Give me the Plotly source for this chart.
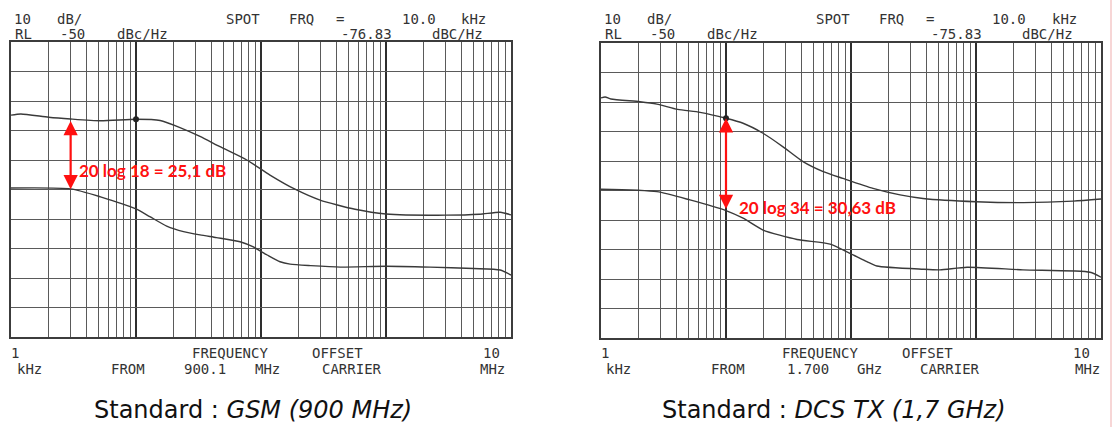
import plotly.graph_objects as go
import numpy as np

W, H = 1115, 427

# ---------------- DATA ----------------
# frequency offset in kHz, phase noise in dBc/Hz
gsm_upper_f = [1, 1.2, 2, 3, 5.2, 10, 15.6, 22.5, 32.5, 47, 77, 118, 187, 297, 565, 1000, 3000, 5600, 8200, 10000]
gsm_upper_db = [-74.8, -74.4, -75.5, -76.1, -76.7, -76.2, -76.6, -79.0, -82.0, -85.5, -90.0, -95.1, -99.9, -103.6, -106.7, -108.3, -108.7, -108.4, -107.7, -108.6]

gsm_lower_f = [1, 3, 5.2, 10, 12.9, 17.6, 24, 32.5, 44, 68, 86, 112, 142, 171, 250, 430, 1000, 2250, 5000, 8200, 10000]
gsm_lower_db = [-99.5, -99.8, -102.5, -106.6, -109.2, -112.4, -114.3, -115.4, -116.3, -117.7, -119.4, -122.2, -124.5, -125.3, -125.8, -126.3, -126.0, -126.3, -126.8, -127.3, -129.0]

dcs_upper_f = [1, 1.08, 1.2, 2.05, 2.8, 4.1, 6.2, 10, 13.7, 19.8, 28.6, 41.3, 60, 86, 150, 247, 377, 1000, 2400, 6000, 10000]
dcs_upper_db = [-68.6, -68.3, -69.0, -69.9, -70.7, -72.5, -73.5, -75.5, -77.2, -80.6, -85.2, -90.2, -93.6, -95.9, -99.3, -101.5, -102.7, -103.8, -104.1, -103.6, -102.9]

dcs_lower_f = [1, 2.8, 5.15, 10, 13.7, 19.8, 37, 68, 98, 134, 161, 377, 515, 847, 2377, 8170, 10000]
dcs_lower_db = [-99.6, -100.4, -103.2, -106.8, -109.4, -113.4, -116.6, -118.2, -121.3, -124.1, -125.6, -126.7, -126.9, -126.0, -126.9, -127.7, -129.4]

spot_freq_khz = 10
gsm_spot_db = -76.2
dcs_spot_db = -75.5

gsm_arrow_f = 3
gsm_arrow_db = [-76.8, -100.4]
dcs_arrow_db = [-75.5, -106.8]

gsm_ratio_label = "20 log 18 = 25,1 dB"
dcs_ratio_label = "20 log 34 = 30,63 dB"

header1 = ["10", "dB/", "SPOT", "FRQ", "=", "10.0", "kHz"]
gsm_header2 = ["RL", "-50", "dBc/Hz", "-76.83", "dBC/Hz"]
dcs_header2 = ["RL", "-50", "dBc/Hz", "-75.83", "dBC/Hz"]
footer1 = ["1", "FREQUENCY", "OFFSET", "10"]
gsm_footer2 = ["kHz", "FROM", "900.1", "MHz", "CARRIER", "MHz"]
dcs_footer2 = ["kHz", "FROM", "1.700", "GHz", "CARRIER", "MHz"]

gsm_caption = ("Standard : ", "GSM (900 MHz)")
dcs_caption = ("Standard : ", "DCS TX (1,7 GHz)")

y_range = [-150, -50]
x_decades = [1, 10, 100, 1000, 10000]

# ---------------- LAYOUT HELPERS ----------------
def px(x):
    return x / W

def py(y):
    return 1 - y / H

LINE = "#3c3c3c"
GRID = "#5a5a5a"
PLOTFONT = dict(family="DejaVu Sans Mono", size=14, color="#333333")

minor_vals = [m * d for d in [1, 10, 100, 1000] for m in range(2, 10)]

def xaxis_def(x0, x1, anchor):
    return dict(
        type="log", range=[0, 4], domain=[px(x0), px(x1)], anchor=anchor,
        tickmode="array", tickvals=x_decades, showticklabels=False, ticks="",
        showgrid=True, gridcolor="#2e2e2e", gridwidth=2,
        minor=dict(tickmode="array", tickvals=minor_vals, showgrid=True,
                   gridcolor=GRID, gridwidth=1.1, ticks=""),
        showline=True, mirror=True, linecolor=LINE, linewidth=1.5, zeroline=False,
    )

def yaxis_def(y0, y1, anchor):
    return dict(
        range=y_range, domain=[py(y1), py(y0)], anchor=anchor,
        dtick=10, showticklabels=False, ticks="",
        showgrid=True, gridcolor=GRID, gridwidth=1.3,
        showline=True, mirror=True, linecolor=LINE, linewidth=1.5, zeroline=False,
    )

fig = go.Figure()

trace_style = dict(mode="lines", line=dict(color="#3a3a3a", width=1.4, shape="spline", smoothing=0.6),
                   showlegend=False, hoverinfo="skip")

fig.add_trace(go.Scatter(x=gsm_upper_f, y=gsm_upper_db, xaxis="x", yaxis="y", **trace_style))
fig.add_trace(go.Scatter(x=gsm_lower_f, y=gsm_lower_db, xaxis="x", yaxis="y", **trace_style))
fig.add_trace(go.Scatter(x=dcs_upper_f, y=dcs_upper_db, xaxis="x2", yaxis="y2", **trace_style))
fig.add_trace(go.Scatter(x=dcs_lower_f, y=dcs_lower_db, xaxis="x2", yaxis="y2", **trace_style))

marker_style = dict(mode="markers", marker=dict(color="#222222", size=6), showlegend=False, hoverinfo="skip")
fig.add_trace(go.Scatter(x=[spot_freq_khz], y=[gsm_spot_db], xaxis="x", yaxis="y", **marker_style))
fig.add_trace(go.Scatter(x=[spot_freq_khz], y=[dcs_spot_db], xaxis="x2", yaxis="y2", **marker_style))

fig.update_layout(
    width=W, height=H, autosize=False,
    margin=dict(l=0, r=0, t=0, b=0),
    paper_bgcolor="white", plot_bgcolor="white",
    xaxis=xaxis_def(11, 511, "y"),
    yaxis=yaxis_def(42, 337, "x"),
    xaxis2=xaxis_def(601, 1101, "y2"),
    yaxis2=yaxis_def(43, 338, "x2"),
)

annotations = []

def word(text, xc, yc, font=PLOTFONT):
    annotations.append(dict(text=text, x=px(xc), y=py(yc), xref="paper", yref="paper",
                            xanchor="center", yanchor="middle", showarrow=False, font=font))

header1_x = [22.5, 69, 242.5, 301, 340, 418.5, 474]
header2_x = [23, 72.5, 142.5, 366.5, 457.5]
footer1_x = [15, 230, 337, 491]
gsm_footer2_x = [29, 128, 205, 267, 352, 492]
dcs_footer2_x = [28, 138, 218, 279, 360, 497]

for panel, (h2, f2, f2x, off) in enumerate([(gsm_header2, gsm_footer2, gsm_footer2_x, 0),
                                            (dcs_header2, dcs_footer2, dcs_footer2_x, 590)]):
    for t, xc in zip(header1, header1_x):
        word(t, xc + off, 19)
    for t, xc in zip(h2, header2_x):
        word(t, xc + off, 34)
    for t, xc in zip(footer1, footer1_x):
        word(t, xc + off, 353)
    for t, xc in zip(f2, f2x):
        word(t, xc + off, 369)

capfont = dict(family="DejaVu Sans", size=24, color="#111111")
for (a, b), xc in [(gsm_caption, 253), (dcs_caption, 834)]:
    annotations.append(dict(text=a + "<i>" + b + "</i>", x=px(xc), y=py(410), xref="paper", yref="paper",
                            xanchor="center", yanchor="middle", showarrow=False, font=capfont))

RED = "#ff1010"
arrow_common = dict(showarrow=True, arrowhead=2, startarrowhead=2, arrowside="end+start",
                    arrowsize=1.3, startarrowsize=1.3, arrowwidth=2.2, arrowcolor=RED,
                    standoff=0, startstandoff=0, text="")
annotations.append(dict(x=np.log10(gsm_arrow_f), y=gsm_arrow_db[0], ax=np.log10(gsm_arrow_f), ay=gsm_arrow_db[1],
                        xref="x", yref="y", axref="x", ayref="y", **arrow_common))
annotations.append(dict(x=np.log10(spot_freq_khz), y=dcs_arrow_db[0], ax=np.log10(spot_freq_khz), ay=dcs_arrow_db[1],
                        xref="x2", yref="y2", axref="x2", ayref="y2", **arrow_common))

redfont = dict(family="Lato", size=17, color=RED, weight="bold")
annotations.append(dict(text="<b>" + gsm_ratio_label + "</b>", x=px(77), y=py(170), xref="paper", yref="paper",
                        xanchor="left", yanchor="middle", showarrow=False, font=redfont))
annotations.append(dict(text="<b>" + dcs_ratio_label + "</b>", x=px(737), y=py(207), xref="paper", yref="paper",
                        xanchor="left", yanchor="middle", showarrow=False, font=redfont))

fig.update_layout(annotations=annotations)

fig.add_shape(type="line", xref="paper", yref="paper", x0=px(1111), x1=px(1111), y0=0, y1=1,
              line=dict(color="#f5c8c8", width=1.5))

fig.write_html("out.html", config={"displayModeBar": False},
               post_script="document.body.style.margin='0';document.body.style.padding='0';")
